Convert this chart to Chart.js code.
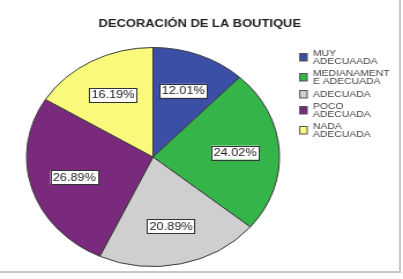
<!DOCTYPE html>
<html>
<head>
<meta charset="utf-8">
<script src="https://cdn.jsdelivr.net/npm/chart.js@4/dist/chart.umd.min.js"></script>
<style>
  html, body { margin: 0; padding: 0; background: #fff; }
  #frame {
    position: absolute; left: 0; top: 0; width: 399px; height: 271px;
    border-right: 2px solid #c8c8c8; border-bottom: 2px solid #c8c8c8;
  }
  #wrap {
    position: absolute; left: 0; top: 0; width: 349px; height: 279px;
    transform: scaleX(1.1547); transform-origin: 0 0;
  }
</style>
</head>
<body>
<div id="frame"></div>
<div id="wrap"><canvas id="chart"></canvas></div>
<script>
const title = 'DECORACIÓN DE LA BOUTIQUE';
const categories = [
    ['MUY', 'ADECUAADA'],
    ['MEDIANAMENT', 'E ADECUADA'],
    ['ADECUADA'],
    ['POCO', 'ADECUADA'],
    ['NADA', 'ADECUADA']
];
const percents = [12.01, 24.02, 20.89, 26.89, 16.19];
const colors = ['#3b4fa6', '#35b44a', '#cfcfcf', '#7a2a7d', '#f9f97c'];

// title, legend and the boxed percentage labels
const extras = {
    id: 'extras',
    afterDraw(chart) {
        const ctx = chart.ctx;
        ctx.save();

        ctx.fillStyle = '#222';
        ctx.font = 'bold 11.2px "Liberation Sans", Arial, sans-serif';
        ctx.textAlign = 'center';
        ctx.textBaseline = 'middle';
        ctx.fillText(title, 173, 24);

        // percentage boxes
        const arcs = chart.getDatasetMeta(0).data;
        ctx.font = '11px "Liberation Sans", Arial, sans-serif';
        arcs.forEach((a, i) => {
            const mid = (a.startAngle + a.endAngle) / 2;
            const r = a.outerRadius * 0.65;
            const x = a.x + Math.cos(mid) * r;
            const y = a.y + Math.sin(mid) * r;
            const txt = percents[i].toFixed(2) + '%';
            const w = ctx.measureText(txt).width + 4;
            const h = 14;
            ctx.fillStyle = '#fff';
            ctx.fillRect(x - w / 2, y - h / 2, w, h);
            ctx.strokeStyle = '#333';
            ctx.lineWidth = 1;
            ctx.strokeRect(Math.round(x - w / 2) + 0.5, Math.round(y - h / 2) + 0.5, Math.round(w), h);
            ctx.fillStyle = '#222';
            ctx.fillText(txt, x, y + 0.5);
        });

        // legend
        const tops = [49, 69, 90, 102, 122];
        ctx.font = '9px "Liberation Sans", Arial, sans-serif';
        ctx.textAlign = 'left';
        ctx.textBaseline = 'top';
        categories.forEach((lines, i) => {
            const lh = 8;
            const top = tops[i];
            const cy = top + lines.length * lh / 2;
            ctx.fillStyle = colors[i];
            ctx.fillRect(259, cy - 4, 7, 8);
            ctx.strokeStyle = '#555';
            ctx.strokeRect(259.5, cy - 3.5, 6.5, 7.5);
            ctx.fillStyle = '#444';
            lines.forEach((ln, j) => ctx.fillText(ln, 271, top + j * lh));
        });
        ctx.restore();
    }
};

new Chart(document.getElementById('chart'), {
    type: 'pie',
    data: {
        labels: categories.map(c => c.join(' ')),
        datasets: [{
            data: percents,
            backgroundColor: colors,
            borderColor: '#3a3a3a',
            borderWidth: 1
        }]
    },
    options: {
        responsive: true,
        maintainAspectRatio: false,
        animation: false,
        layout: { padding: { top: 47, bottom: 12, left: 22.5, right: 106.5 } },
        plugins: {
            legend: { display: false },
            title: { display: false },
            tooltip: { enabled: false }
        }
    },
    plugins: [extras]
});
</script>
</body>
</html>
